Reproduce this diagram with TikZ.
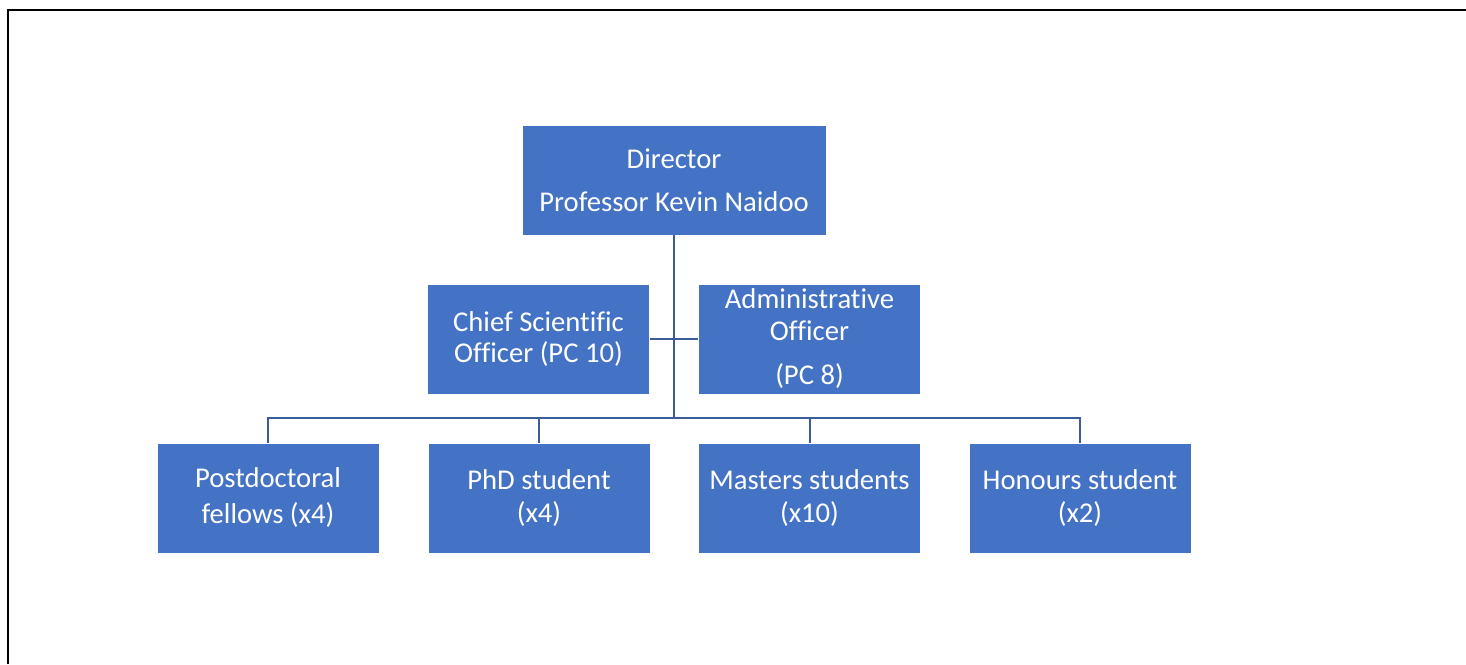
\documentclass[tikz,border=0pt]{standalone}
\usepackage{fontspec}
\setmainfont[Ligatures=NoCommon]{Carlito}
\definecolor{boxblue}{HTML}{4472C4}
\definecolor{linkblue}{HTML}{3B5C9A}
\begin{document}
\begin{tikzpicture}[x=0.75pt,y=-0.75pt,
  unit/.style={rectangle, fill=boxblue, draw=white, line width=0.75pt,
    text=white, align=center, inner sep=0pt, outer sep=0pt,
    minimum width=167pt, minimum height=82.5pt,
    font=\fontsize{21.5}{23}\selectfont},
  link/.style={draw=linkblue, line width=1.5pt},
  frame/.style={draw=black, line width=2pt}]
\useasboundingbox (0,0) rectangle (1466,664);
\fill[white] (0,0) rectangle (1466,664);
% outer frame (top and left edges)
\draw[frame] (8,664) -- (8,10) -- (1466,10);

% top of the chart
\node[unit, minimum width=228pt] (director) at (674,180)
  {Director\\[9pt]Professor Kevin Naidoo};
\node[unit] (cso) at (538.5,339) {Chief Scientific\\Officer (PC 10)};
\node[unit] (ao) at (809.5,339) {Administrative\\[1pt]Officer\\[10pt](PC 8)};

% bottom row
\node[unit, minimum width=166.5pt] (post) at (268,498) {Postdoctoral\\[4pt]fellows (x4)};
\node[unit, minimum width=166.5pt] (phd) at (539,498) {PhD student\\[2pt](x4)};
\node[unit] (msc) at (809.5,498) {Masters students\\[2pt](x10)};
\node[unit, minimum width=166.5pt] (hons) at (1080,498) {Honours student\\[2pt](x2)};

% connectors
\coordinate (bus) at (674,418);
\draw[link] (director.south) -- (bus);
\draw[link] (cso.east) -- (ao.west);
\draw[link] (post.north) |- (bus) -| (hons.north);
\draw[link] (phd.north) -- (phd.north |- bus);
\draw[link] (msc.north) -- (msc.north |- bus);
\end{tikzpicture}
\end{document}
